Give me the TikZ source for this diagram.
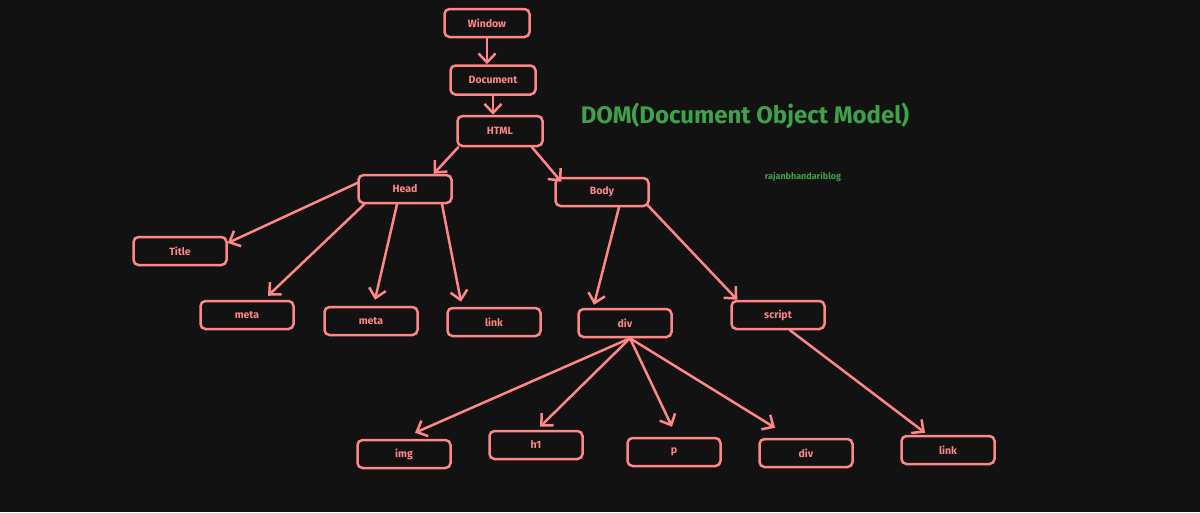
\documentclass[tikz,border=0pt]{standalone}
\usepackage{fontspec}
\setmainfont{Fira Sans}
\usetikzlibrary{arrows.meta}
\definecolor{bgdark}{HTML}{121212}
\definecolor{pinkline}{HTML}{FF8787}
\definecolor{dgreen}{HTML}{40A14B}
\begin{document}
\begin{tikzpicture}[x=1pt,y=-1pt,line width=2.5pt,
      box/.style={draw=pinkline,text=pinkline,rounded corners=5pt,
        minimum width=93pt,minimum height=28pt,
        font=\bfseries\fontsize{10.5}{12}\selectfont},
      smallbox/.style={box,minimum width=85pt},
      pfeil/.style={draw=pinkline,line cap=round,
        -{Straight Barb[length=9pt,width=17pt]}}]
    \fill[bgdark] (0,0) rectangle (1200,512);
    \useasboundingbox (0,0) rectangle (1200,512);
    % top chain
    \node[smallbox] at (487,23) (Win) {Window};
    \node[smallbox,minimum height=29pt] at (493,80) (Doc) {Document};
    \node[smallbox,minimum height=30pt] at (500,131) (Html) {HTML};
    % second level
    \node[box] at (405,189) (Head) {Head};
    \node[box] at (602,192) (Body) {Body};
    % children of head
    \node[box] at (180,251) (Title) {Title};
    \node[box] at (247,315) (MetaA) {meta};
    \node[box] at (371,321) (MetaB) {meta};
    \node[box] at (494,322) (LinkA) {link};
    % children of body
    \node[box] at (625,323) (Div) {div};
    \node[box] at (778,315) (Script) {script};
    % bottom row
    \node[box] at (404,454) (Img) {img};
    \node[box] at (536,445) (Hone) {h1};
    \node[box] at (674,452) (Par) {p};
    \node[box] at (806,453) (DivB) {div};
    \node[box] at (948,450) (LinkB) {link};
    % titles
    \node[text=dgreen,font=\bfseries\fontsize{24}{28}\selectfont] at (745,116) (Head0) {DOM(Document Object Model)};
    \node[text=dgreen,font=\bfseries\fontsize{9}{10}\selectfont] at (803,177) (Blog) {rajanbhandariblog};
    % arrows
    \draw[pfeil] (Win.south) -- (Win.south |- Doc.north);
    \draw[pfeil] (Doc.south) -- (Doc.south |- Html.north);
    \draw[pfeil] ([xshift=2pt]Html.south west) -- ([xshift=-19pt]Head.north east);
    \draw[pfeil] ([xshift=32pt]Html.south) -- ([xshift=7pt,yshift=-5pt]Body.north west);
    \draw[pfeil] ([yshift=6pt]Head.west) -- ([yshift=8pt]Title.east);
    \draw[pfeil] ([xshift=7pt]Head.south west) -- ([xshift=21pt,yshift=4pt]MetaA.north);
    \draw[pfeil] ([xshift=-8pt]Head.south) -- ([xshift=4pt,yshift=6pt]MetaB.north);
    \draw[pfeil] ([xshift=37pt]Head.south) -- ([xshift=-33pt,yshift=5pt]LinkA.north);
    \draw[pfeil] ([xshift=17pt]Body.south) -- ([xshift=-31pt,yshift=3pt]Div.north);
    \draw[pfeil] ([xshift=-3pt,yshift=3pt]Body.south east) -- ([xshift=7pt]Script.north west);
    \draw[pfeil] ([xshift=5pt]Div.south) -- ([xshift=11pt,yshift=6pt]Img.north);
    \draw[pfeil] ([xshift=5pt]Div.south) -- ([xshift=4pt,yshift=3pt]Hone.north);
    \draw[pfeil] ([xshift=5pt]Div.south) -- ([xshift=-2pt,yshift=10pt]Par.north);
    \draw[pfeil] ([xshift=5pt]Div.south) -- ([xshift=-31pt,yshift=10pt]DivB.north);
    \draw[pfeil] ([xshift=12pt]Script.south) -- ([xshift=-23pt,yshift=2pt]LinkB.north);
  \end{tikzpicture}
\end{document}
